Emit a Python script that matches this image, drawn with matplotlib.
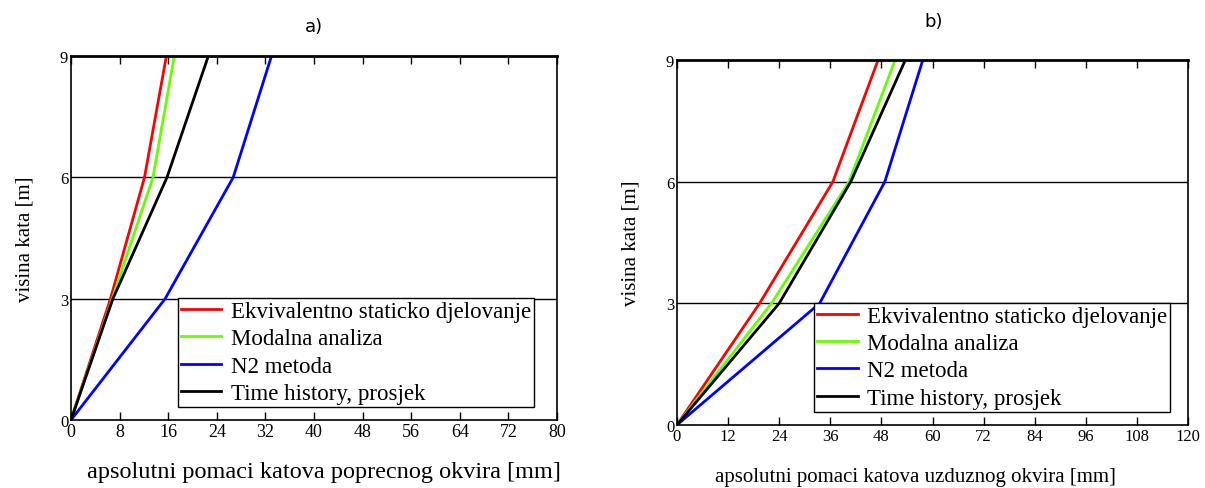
import numpy as np
import matplotlib
matplotlib.use('Agg')
import matplotlib.pyplot as plt

plt.rcParams['font.family'] = 'Liberation Serif'

visina = [0, 3, 6, 9]
labels = ['Ekvivalentno staticko djelovanje', 'Modalna analiza', 'N2 metoda', 'Time history, prosjek']
boje = ['#ff0000', '#66ff00', '#0000ff', '#000000']

# a) poprecni okvir
pop_static = [0, 6.5, 12.1, 15.7]
pop_modal = [0, 6.8, 13.5, 17.0]
pop_n2 = [0, 15.5, 26.7, 33.0]
pop_th = [0, 6.9, 15.8, 22.6]

# b) uzduzni okvir
uzd_static = [0, 19.4, 36.6, 47.2]
uzd_modal = [0, 22.2, 40.4, 51.2]
uzd_n2 = [0, 33.5, 48.8, 57.7]
uzd_th = [0, 24.0, 40.8, 53.6]

fig = plt.figure(figsize=(12.05, 4.89), dpi=100)
ax1 = fig.add_axes([0.0589, 0.139, 0.4033, 0.744])
ax2 = fig.add_axes([0.5618, 0.129, 0.4242, 0.746])


def crtaj(ax, serije, xmax, korak, xlab, legloc, tsize, xsize, xlab_pos):
    for s, c, l in zip(serije, boje, labels):
        ax.plot(s, visina, color=c, lw=2, label=l, solid_joinstyle='miter')
    ax.set_xlim(0, xmax)
    ax.set_ylim(0, 9)
    ax.set_xticks(np.arange(0, xmax + 1, korak))
    ax.set_yticks([0, 3, 6, 9])
    for yy in [3, 6]:
        ax.axhline(yy, color='black', lw=1, zorder=0)
    ax.tick_params(axis='x', direction='in', top=True, length=6, width=1, labelsize=tsize, pad=2)
    ax.tick_params(axis='y', length=0, labelsize=12, pad=2)
    for sp in ax.spines.values():
        sp.set_linewidth(1.2)
    ax.spines['top'].set_linewidth(2)
    ax.set_ylabel('visina kata [m]', fontsize=15, labelpad=18)
    ax.set_xlabel(xlab, fontsize=xsize)
    ax.xaxis.set_label_coords(*xlab_pos)
    ax.xaxis.label.set_va('center')
    leg = ax.legend(loc='lower left', bbox_to_anchor=legloc, fontsize=16.5, frameon=True,
                    fancybox=False, edgecolor='black', borderpad=0.15, handlelength=1.75,
                    labelspacing=0.27, handletextpad=0.4, borderaxespad=0)
    leg.get_frame().set_linewidth(1)
    leg.get_frame().set_alpha(1)


# polozaj naslova osi x u koordinatama osi
crtaj(ax1, [pop_static, pop_modal, pop_n2, pop_th], 80, 8,
      'apsolutni pomaci katova poprecnog okvira [mm]', (0.22, 0.035), 13, 17.5,
      ((324 - 71) / 486, -(472 - 421) / 364))
crtaj(ax2, [uzd_static, uzd_modal, uzd_n2, uzd_th], 120, 12,
      'apsolutni pomaci katova uzduznog okvira [mm]', (0.268, 0.035), 12, 15,
      ((915 - 677) / 511, -(478 - 426) / 365))

fig.text(314 / 1205, 1 - 27 / 489, 'a)', ha='center', va='center', fontsize=13, family='DejaVu Sans')
fig.text(934 / 1205, 1 - 22 / 489, 'b)', ha='center', va='center', fontsize=13, family='DejaVu Sans')

fig.savefig('out.png', dpi=100)
